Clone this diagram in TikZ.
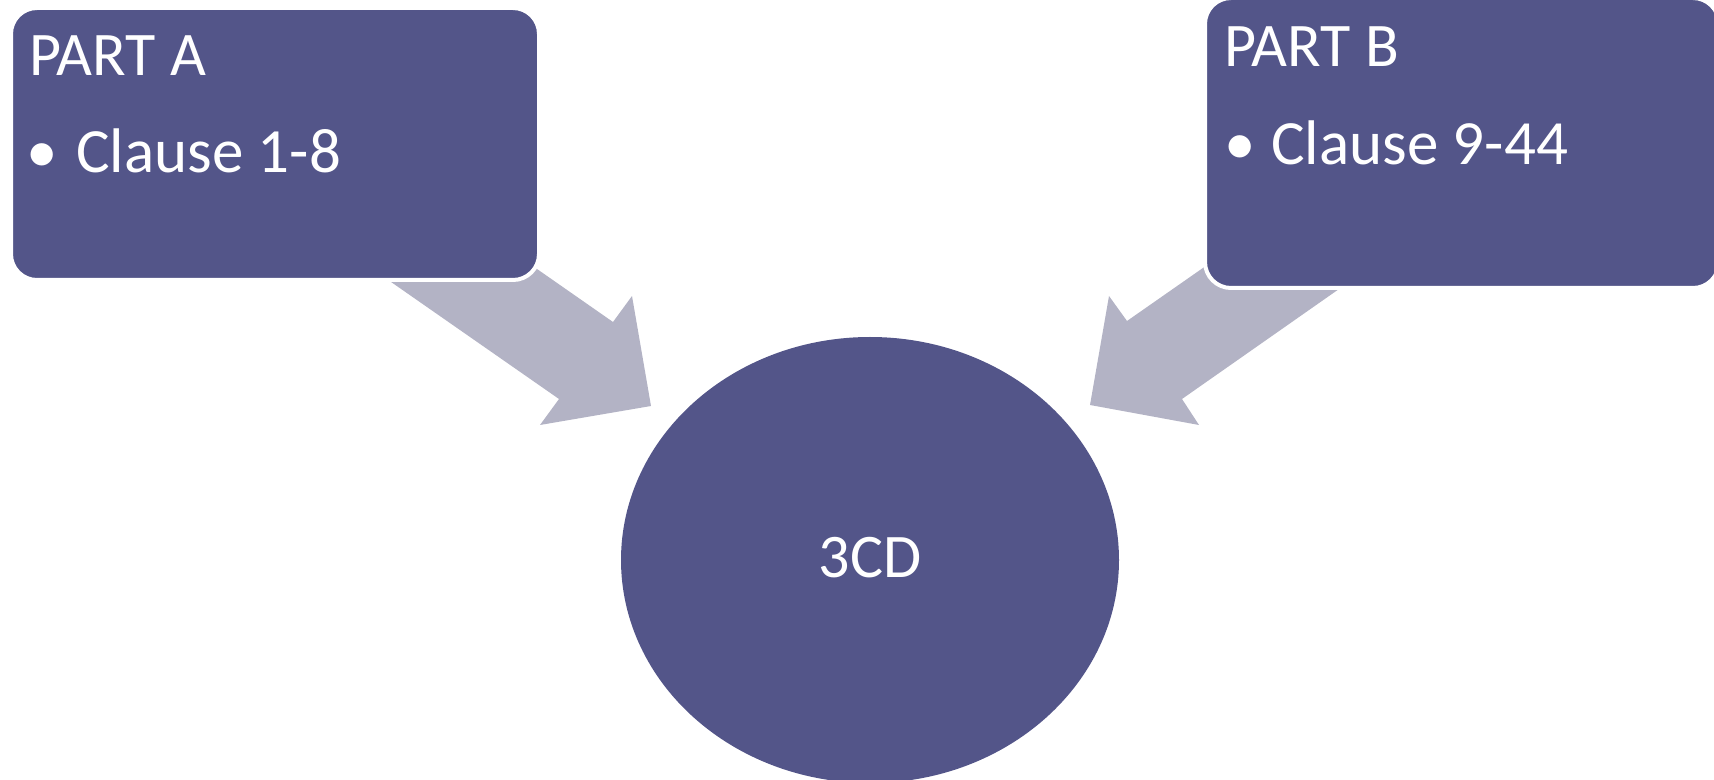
\documentclass[tikz,border=0pt]{standalone}
\usepackage{fontspec}
\setmainfont{Carlito}
\usetikzlibrary{shapes.geometric}
\definecolor{boxblue}{RGB}{83,85,137}
\definecolor{arrowgray}{RGB}{179,179,197}
\tikzset{
  partbox/.style={rectangle, rounded corners=13pt, fill=boxblue, draw=white, line width=2pt, inner sep=0pt, anchor=north west},
  bigarrow/.style={fill=arrowgray, draw=none},
  headtxt/.style={text=white, font=\fontsize{31pt}{36pt}\selectfont, inner sep=0pt, anchor=base west},
  itemtxt/.style={text=white, font=\fontsize{31.5pt}{38pt}\selectfont, inner sep=0pt, anchor=base west},
  centre/.style={ellipse, fill=boxblue, draw=none, minimum width=249pt, minimum height=223pt, inner sep=0pt}
}
\begin{document}
\begin{tikzpicture}[x=0.5pt, y=-0.5pt]
\useasboundingbox (0,0) rectangle (1714,780);
% block arrows (behind boxes)
\fill[bigarrow] (348,252) -- (494,239) -- (613,322) -- (632,296) -- (651,406) -- (540,425) -- (559,399) -- cycle;
\fill[bigarrow] (1243,240) -- (1127,321) -- (1109,296) -- (1090,405) -- (1199,425) -- (1182,399) -- (1379,261) -- cycle;
% boxes
\node[partbox, minimum width=264pt, minimum height=136pt] (A) at (9,6) {};
\node[partbox, minimum width=257pt, minimum height=145pt] (B) at (1203,-4) {};
% centre ellipse
\node[centre] (C) at (870,560) {};
\node[text=white, font=\fontsize{31pt}{36pt}\selectfont, inner sep=0pt, anchor=base] (Ct) at (870,577) {3CD};
% texts
\node[headtxt] (Ah) at (29,76) {PART A};
\node[itemtxt] (Ab) at (26,173) {•};
\node[itemtxt] (Ai) at (76,173) {Clause 1-8};
\node[headtxt] (Bh) at (1224,67) {PART B};
\node[itemtxt] (Bb) at (1224,165) {•};
\node[itemtxt] (Bi) at (1271,165) {Clause 9-44};
\end{tikzpicture}
\end{document}
